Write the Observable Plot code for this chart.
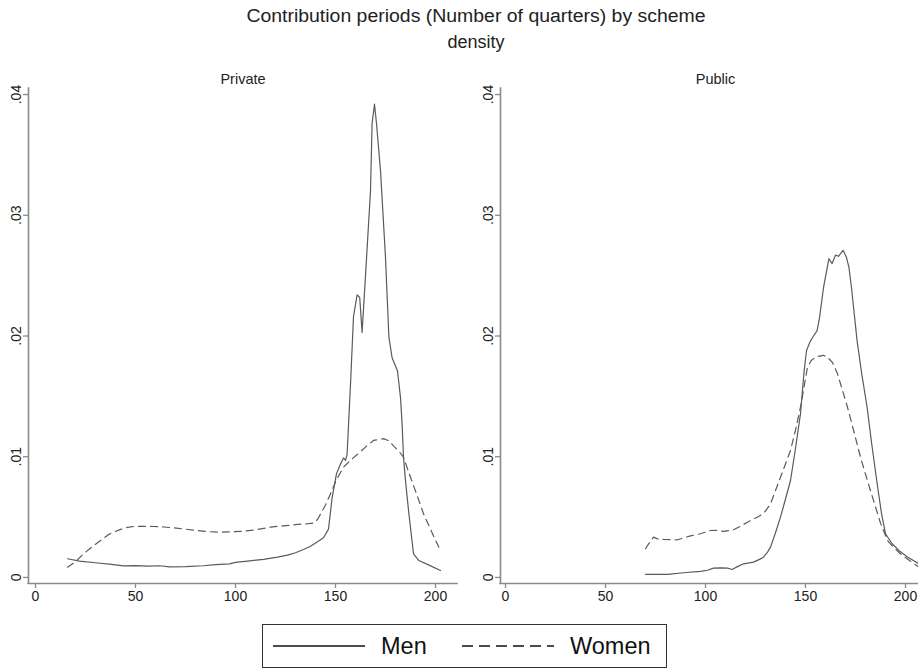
<!DOCTYPE html>
<html>
<head>
<meta charset="utf-8">
<script src="https://cdn.jsdelivr.net/npm/d3@7"></script>
<script src="https://cdn.jsdelivr.net/npm/@observablehq/plot@0.6"></script>
<style>
  body { margin: 0; background: #fff; }
  #wrap { position: relative; width: 918px; height: 670px; overflow: hidden; background: #fff;
          font-family: "Liberation Sans", Arial, sans-serif; color: #222; }
  .title { position: absolute; left: 0; width: 952px; text-align: center; white-space: nowrap; }
  .panel { position: absolute; top: 0; width: 470px; height: 615px; }
  .panel svg { max-width: none !important; }
  #legend { position: absolute; left: 262px; top: 624px; width: 403px; height: 42px; border: 1.3px solid #333; }
</style>
</head>
<body>
<div id="wrap">
  <div class="title" style="top:6px;font-size:18px;transform:scaleX(1.08);">Contribution periods (Number of quarters) by scheme</div>
  <div class="title" style="top:32px;font-size:18px;">density</div>
  <div id="left" class="panel" style="left:0px;"></div>
  <div id="right" class="panel" style="left:460px;"></div>
  <div id="legend"></div>
</div>
<script>
// ---- data ----
const panelNames = ["Private", "Public"];
const seriesNames = ["Men", "Women"];
const xTicks = [0, 50, 100, 150, 200];
const yTicks = [0, 0.01, 0.02, 0.03, 0.04];
const yTickLabels = ["0", ".01", ".02", ".03", ".04"];

// Private scheme: [quarters, density]
const privateMen = [[16,0.00155],[22,0.00135],[30,0.00122],[38,0.00108],[44,0.00096],[50,0.00098],[56,0.00094],[62,0.00097],[67,0.00088],[75,0.0009],[84,0.00097],[90,0.00106],[97,0.00112],[100,0.00125],[106,0.00135],[114,0.0015],[121,0.00168],[126,0.00185],[130,0.00205],[134,0.00232],[137.5,0.00259],[141,0.00295],[144,0.00329],[146.5,0.004],[148.3,0.0066],[150.5,0.0086],[152.5,0.0094],[154,0.0099],[155,0.0097],[155.8,0.0102],[157.5,0.016],[159,0.0216],[160.8,0.0234],[162.1,0.0232],[163.3,0.0203],[165,0.025],[167.5,0.032],[168.3,0.0376],[169.5,0.0392],[170.5,0.0376],[172.5,0.0337],[175,0.0265],[176.7,0.0199],[178.3,0.0182],[181,0.0171],[182.5,0.0149],[183.3,0.0127],[184,0.00996],[185,0.008],[186.7,0.00527],[189,0.00196],[191.7,0.0014],[197,0.001],[202.5,0.00058]];
const privateWomen = [[16,0.00085],[20,0.0013],[24,0.00196],[28,0.0025],[32.5,0.00306],[37,0.0036],[42.5,0.00398],[46,0.00415],[49,0.00422],[54,0.00424],[59,0.00422],[64,0.00418],[69,0.00411],[75,0.004],[81,0.00389],[86,0.0038],[91,0.00375],[98,0.00378],[104,0.00383],[110,0.00395],[117.5,0.00417],[124,0.00428],[131,0.00439],[136,0.00445],[139,0.0045],[141,0.0048],[143,0.0054],[145,0.006],[147.5,0.00693],[150.5,0.0081],[154,0.00913],[157.5,0.0097],[161,0.0102],[165,0.0108],[169,0.01135],[174,0.0115],[177,0.0113],[179,0.0109],[182,0.0104],[184,0.00996],[187.5,0.0083],[191,0.0067],[194,0.00528],[198,0.0038],[201.7,0.00251]];

// Public scheme: [quarters, density]
const publicMen = [[70,0.00025],[75,0.00025],[81,0.00025],[89,0.00039],[97.5,0.0005],[101,0.0006],[104,0.00077],[108,0.0008],[111,0.00077],[113.3,0.00066],[116,0.0009],[119,0.00113],[124,0.00127],[127,0.0015],[129,0.00168],[131,0.0021],[132.5,0.00251],[135,0.0037],[137.5,0.005],[140,0.0065],[142.5,0.00803],[145,0.0107],[147.5,0.01356],[149.2,0.0169],[150.5,0.0188],[152.5,0.0196],[154,0.02],[155.8,0.02045],[157,0.0215],[159,0.024],[161.7,0.0264],[163.3,0.026],[165,0.0267],[166.5,0.0266],[168.8,0.0271],[170.5,0.0265],[171.7,0.0257],[173,0.024],[175.8,0.0196],[178,0.017],[180.8,0.0141],[183,0.0112],[185.8,0.0078],[188,0.0053],[190,0.00362],[193.3,0.00279],[197,0.0022],[201,0.0017],[206.7,0.00113]];
const publicWomen = [[70,0.00238],[72,0.0029],[74,0.00334],[76,0.0032],[79,0.00315],[86,0.00312],[92.5,0.00345],[97.5,0.00362],[102.5,0.00389],[106,0.0039],[109,0.00381],[114,0.00395],[117,0.0042],[121,0.00458],[127.5,0.00513],[130,0.0055],[132.5,0.0061],[135,0.0072],[137.5,0.0083],[140,0.0094],[142.5,0.01052],[145,0.0122],[147.5,0.0141],[149.5,0.016],[151,0.01742],[153,0.018],[155.8,0.0183],[159,0.0184],[161,0.01825],[163.5,0.0178],[166,0.01687],[168.5,0.0155],[171,0.0141],[174,0.0122],[177.5,0.00996],[181,0.008],[184,0.00638],[187.5,0.0045],[191,0.00306],[194,0.0025],[197.5,0.00196],[202,0.0014],[206.7,0.00085]];

// ---- drawing ----
const FONT = '"Liberation Sans", Arial, sans-serif';
const AXIS = "#8a8a8a";
const LINE = "#5a5a5a";
const yDomain = [-0.0005, 0.0405];

function panel(name, men, women, xDomain, marginLeft, marginRight) {
  return Plot.plot({
    width: 470,
    height: 615,
    marginLeft, marginRight,
    marginTop: 88,
    marginBottom: 32,
    x: {domain: xDomain},
    y: {domain: yDomain},
    style: {fontFamily: FONT, background: "transparent", overflow: "visible", color: "#222", maxWidth: "none"},
    marks: [
      Plot.ruleY([yDomain[0]], {stroke: AXIS, strokeWidth: 1.6, strokeLinecap: "square"}),
      Plot.ruleX([xDomain[0]], {stroke: AXIS, strokeWidth: 1.6, strokeLinecap: "square"}),
      Plot.axisX({ticks: xTicks, tickSize: 5, tickPadding: 3, stroke: AXIS, strokeWidth: 1.3, fontSize: 14, label: null}),
      Plot.axisY({ticks: yTicks, tickFormat: (d) => yTickLabels[yTicks.indexOf(d)], tickRotate: -90,
                  tickSize: 5, tickPadding: 3, stroke: AXIS, strokeWidth: 1.3, fontSize: 14, label: null}),
      Plot.line(men, {x: d => d[0], y: d => d[1], stroke: LINE, strokeWidth: 1.2, curve: "linear"}),
      Plot.line(women, {x: d => d[0], y: d => d[1], stroke: LINE, strokeWidth: 1.2, strokeDasharray: "7,5", curve: "linear"}),
      Plot.text([name], {frameAnchor: "top", dy: -15, fontSize: 14.5, fill: "#222"})
    ]
  });
}

document.getElementById("left").appendChild(panel(panelNames[0], privateMen, privateWomen, [-3.5, 211], 28, 13));
document.getElementById("right").appendChild(panel(panelNames[1], publicMen, publicWomen, [-2.5, 212.5], 40, 0));

// legend
const lg = d3.select("#legend").append("svg").attr("width", 403).attr("height", 42);
const items = [
  {name: seriesNames[0], x: 10, dash: null},
  {name: seriesNames[1], x: 199, dash: "11,6"}
];
for (const it of items) {
  lg.append("line").attr("x1", it.x).attr("x2", it.x + 92).attr("y1", 21).attr("y2", 21)
    .attr("stroke", "#111").attr("stroke-width", 1.5).attr("stroke-dasharray", it.dash);
  lg.append("text").attr("x", it.x + 108).attr("y", 29).text(it.name)
    .attr("font-family", FONT).attr("font-size", 23.5).attr("fill", "#111");
}
</script>
</body>
</html>
